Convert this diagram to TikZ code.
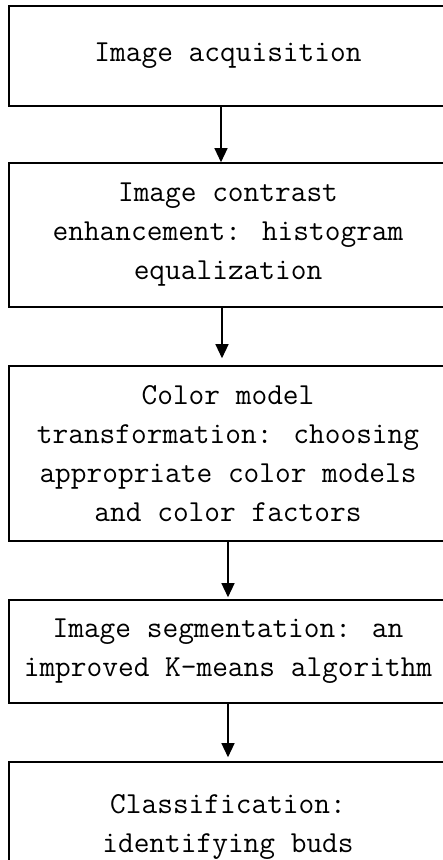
\documentclass[tikz,border=0pt]{standalone}
\usepackage{fontspec}
\usetikzlibrary{arrows.meta}

\tikzset{
    stepbox/.style={draw, line width=1.6pt, minimum width=438pt, inner sep=0pt,
        align=center, font=\ttfamily\fontsize{30.5}{39}\selectfont},
    flow/.style={line width=1.3pt, -{Triangle[length=14pt,width=13pt]}}
}

\begin{document}
\begin{tikzpicture}[x=1pt, y=1pt]
\useasboundingbox (0,0) rectangle (443,-860);
\clip (0,0) rectangle (443,-860);
    \node[stepbox, minimum height=100pt] (acq) at (228,-56) {Image acquisition};
    \node[stepbox, minimum height=144pt] (contrast) at (228,-235)
        {Image contrast\\enhancement: histogram\\equalization};
    \node[stepbox, minimum height=175pt] (color) at (228,-453.5)
        {Color model\\transformation: choosing\\appropriate color models\\and color factors};
    \node[stepbox, minimum height=103pt] (seg) at (228,-651.5)
        {Image segmentation: an\\improved K-means algorithm};
    \node[stepbox, minimum height=130pt] (cls) at (228,-827)
        {Classification:\\identifying buds};

    \draw[flow] ([xshift=-7pt]acq.south) -- ([xshift=-7pt]contrast.north);
    \draw[flow, shorten >=7pt] ([xshift=-6pt]contrast.south) -- ([xshift=-6pt]color.north);
    \draw[flow, shorten >=2pt] (color.south) -- (seg.north);
    \draw[flow, shorten >=4pt] (seg.south) -- (cls.north);
\end{tikzpicture}
\end{document}
